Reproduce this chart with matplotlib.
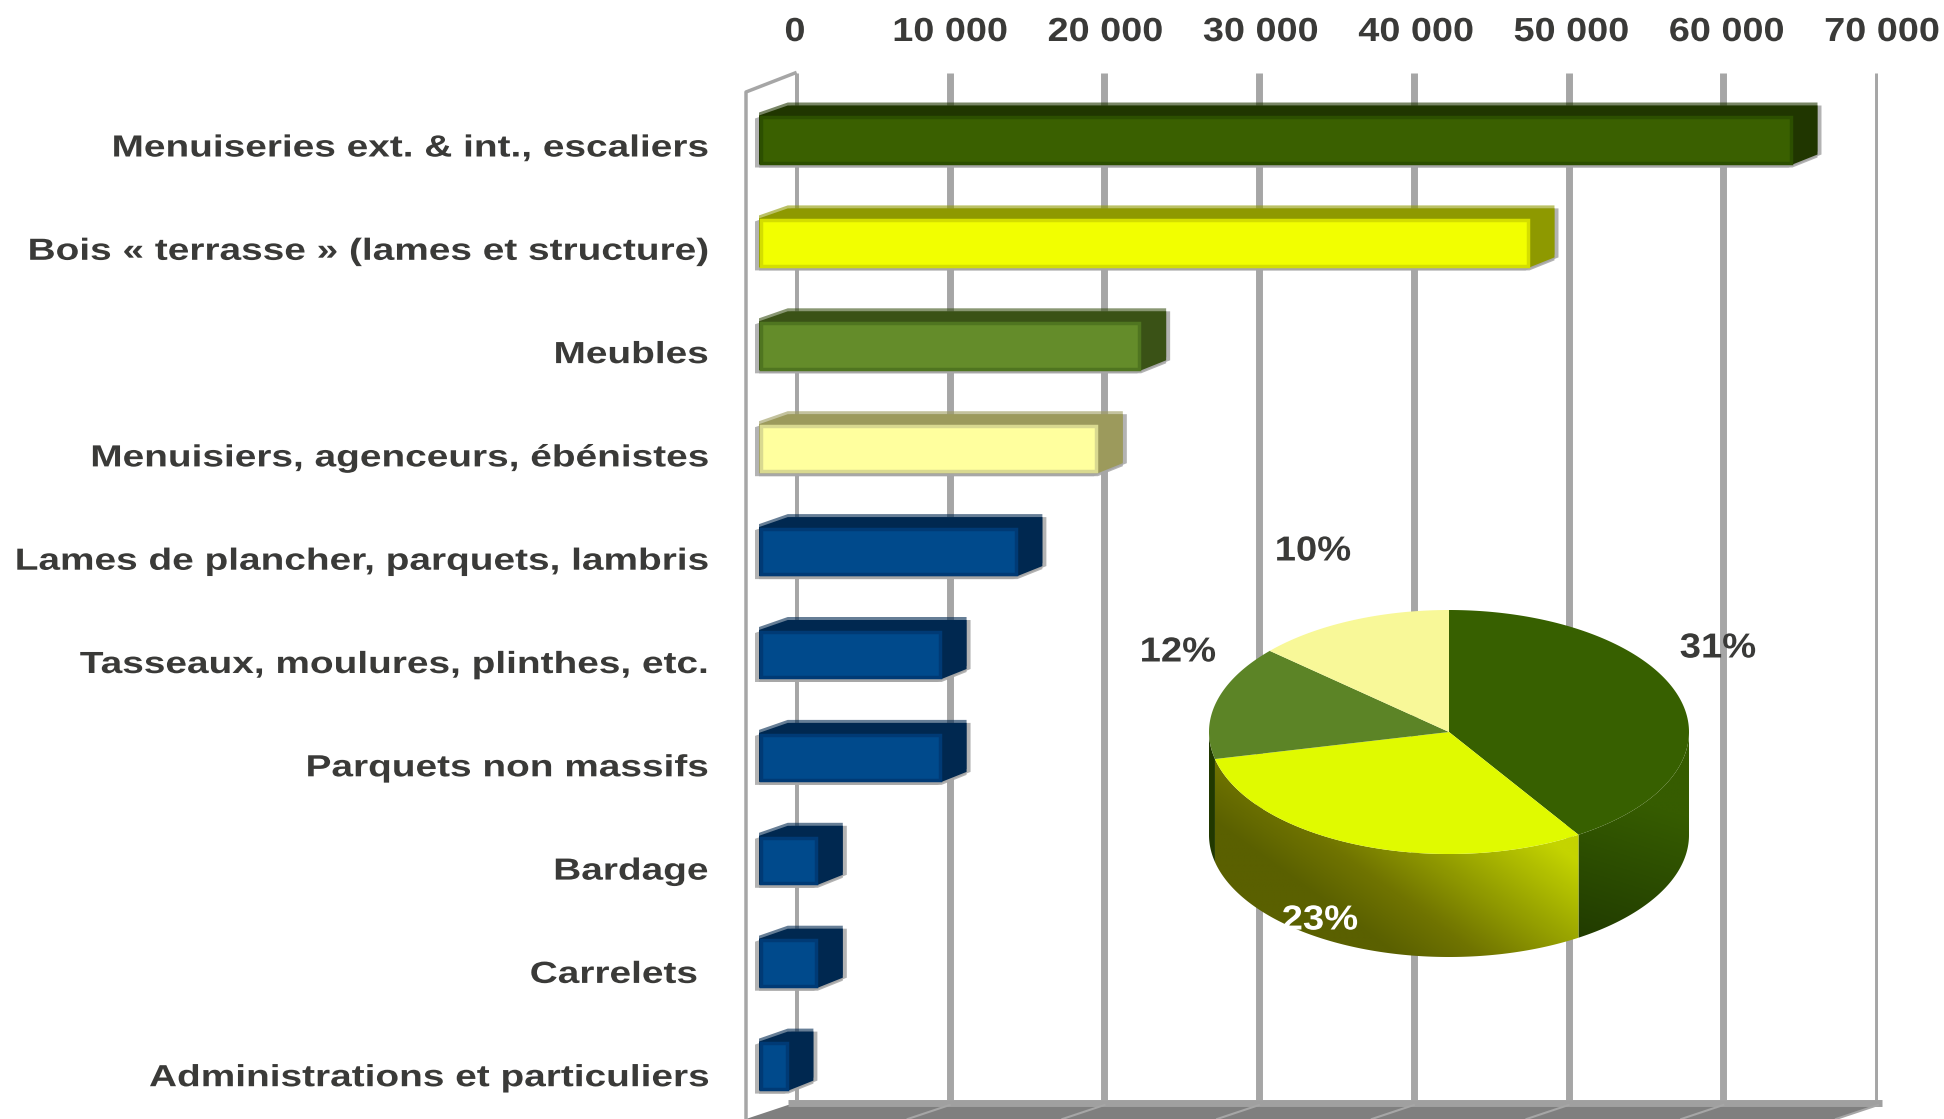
import numpy as np
import matplotlib
matplotlib.use('Agg')
import matplotlib.pyplot as plt
import matplotlib.patheffects as path_effects
from matplotlib.colors import LinearSegmentedColormap
from matplotlib.patches import Polygon
from matplotlib.transforms import Affine2D

plt.rcParams['font.family'] = ['Liberation Sans', 'DejaVu Sans']

categories = ['Menuiseries ext. & int., escaliers', 'Bois « terrasse » (lames et structure)', 'Meubles',
              'Menuisiers, agenceurs, ébénistes', 'Lames de plancher, parquets, lambris',
              'Tasseaux, moulures, plinthes, etc.', 'Parquets non massifs', 'Bardage', 'Carrelets ',
              'Administrations et particuliers']
values = [66800, 49800, 24700, 21900, 16700, 11800, 11800, 3800, 3800, 1900]
ticks = [0, 10000, 20000, 30000, 40000, 50000, 60000, 70000]
tick_labels = ['0', '10 000', '20 000', '30 000', '40 000', '50 000', '60 000', '70 000']
pie_values = [66800, 49800, 24700, 21900]
pie_labels = ['31%', '23%', '12%', '10%']

# front, edge, top/side
dark = ('#3a6000', '#2c4f00', '#203600')
yellow = ('#f2ff00', '#d4de00', '#8e9900')
green = ('#648c2a', '#4f7520', '#3a5216')
pale = ('#ffff9e', '#d9d990', '#9c9a5c')
blue = ('#004a8c', '#003a75', '#002850')
bar_colors = [dark, yellow, green, pale, blue, blue, blue, blue, blue, blue]
pie_colors = ['#376000', '#e0fa00', '#5c8426', '#f8f898']


class Stretch(path_effects.AbstractPathEffect):
    # the source picture has its text pulled wider, so do the same when drawing
    def __init__(self, sx, anchor=None, dx=0, dy=0):
        super().__init__()
        self.sx = sx
        self.anchor = anchor
        self.dx = dx
        self.dy = dy

    def draw_path(self, renderer, gc, tpath, affine, rgbFace=None):
        x0 = self.anchor
        if x0 is None:
            ext = tpath.get_extents(affine)
            x0 = (ext.x0 + ext.x1) / 2
        t = affine + Affine2D().translate(-x0, 0).scale(self.sx, 1).translate(x0 + self.dx, self.dy)
        renderer.draw_path(gc, tpath, t, rgbFace)


W, H = 1944, 1119
fig = plt.figure(figsize=(W / 100, H / 100), dpi=100)
ax = fig.add_axes([795 / W, 1 - 1100 / H, (1878 - 795) / W, (1100 - 73) / H])
y_top = -(140 - 73) / 102.9
y_bot = (1100 - 140) / 102.9
ax.set_xlim(0, 70000)
ax.set_ylim(y_bot, y_top)
for s in ax.spines.values():
    s.set_visible(False)

px_x = 70000 / (1878 - 795)
px_y = 1 / 102.9
grid_c = '#a6a6a6'

ax.xaxis.tick_top()
ax.set_xticks(ticks)
ax.set_xticklabels(tick_labels, fontsize=24, fontweight='bold', color='#3a3a38')
ax.set_yticks(range(len(categories)))
ax.set_yticklabels(categories, fontsize=22, fontweight='bold', color='#3a3a38')
ax.tick_params(axis='x', length=0, pad=18)
ax.tick_params(axis='y', length=0, pad=62)
for i, t in enumerate(ax.get_xticklabels()):
    t.set_path_effects([Stretch(1.135, dx=i * 0.6)])
for i, t in enumerate(ax.get_yticklabels()):
    t.set_path_effects([Stretch(1.27, anchor=710.5, dy=-5 - i * 0.4)])

# back wall lines
for t in ticks:
    ax.axvline(t, color=grid_c, lw=5, zorder=1, solid_capstyle='butt')

# floor and left wall
floor_y = y_bot + 5 * px_y
floor_dy = 14 * px_y
floor_dx = 42 * px_x
ax.add_patch(Polygon([(-7 * px_x, floor_y), (70000, floor_y), (70000 - floor_dx, floor_y + floor_dy),
                      (-7 * px_x - floor_dx, floor_y + floor_dy)],
                     closed=True, fc='#7f7f7f', ec='none', zorder=1, clip_on=False))
ax.plot([-7 * px_x, 4 * px_x + 70000], [y_bot + 2.5 * px_y] * 2, color='#a0a0a0', lw=5, zorder=1.5, clip_on=False,
        solid_capstyle='butt')
for t in ticks[1:]:
    ax.plot([t, t - floor_dx], [floor_y, floor_y + floor_dy], color=grid_c, lw=1.5, zorder=1.5, clip_on=False)
wall_x = 49 * px_x
ax.plot([0, -wall_x, -wall_x], [y_top, y_top + 19 * px_y, y_bot + 30 * px_y], color=grid_c, lw=2.5, zorder=1,
        clip_on=False)

# 3d bars
start = -36 * px_x
dx = 25 * px_x
dy = 10 * px_y
hb = 24.5 * px_y
edge_x = 1.75 * px_x
edge_y = 1.75 * px_y
for i, (v, c) in enumerate(zip(values, bar_colors)):
    end = start + v
    outline = np.array([(start, i - hb), (start + 1.15 * dx, i - hb - dy), (end + dx, i - hb - dy),
                        (end + dx, i + hb - dy), (end, i + hb), (start, i + hb)])
    # soft grey halo on the sides of each bar
    for sx, sy, col, al in [(-4, 3, grid_c, 0.85), (4, 0, grid_c, 0.85), (0, 3, grid_c, 0.85), (0, -3, c[2], 0.6)]:
        ax.add_patch(Polygon(outline + [sx * px_x, sy * px_y], closed=True, fc=col, ec='none', alpha=al, zorder=2,
                             clip_on=False))
    ax.add_patch(Polygon(outline, closed=True, fc=c[2], ec='none', zorder=3, clip_on=False))
    ax.barh(i, v - 2 * edge_x, left=start + edge_x, height=2 * hb - 2 * edge_y, color=c[0], edgecolor=c[1],
            linewidth=2.5, zorder=4, clip_on=False)

# pie drawn as ellipse in its own axes, one unit = radius
depth = 103 / 122
pax = fig.add_axes([1209 / W, 1 - 957 / H, (1689 - 1209) / W, (957 - 610) / H])
pax.set_xlim(-1, 1)
pax.set_ylim(-1 - depth, 1)
pax.axis('off')
pax.patch.set_alpha(0)

frac = np.cumsum([0] + pie_values) / sum(pie_values) * 2 * np.pi


def arc(a, b):
    t = np.linspace(a, b, 200)
    return np.sin(t), np.cos(t)


def side_poly(a, b):
    x, y = arc(a, b)
    return np.column_stack([np.r_[x, x[::-1]], np.r_[y, y[::-1] - depth]])


gx, gy = np.meshgrid(np.linspace(-1, 1, 400), np.linspace(1, -1 - depth, 400))

# green side
p = Polygon(side_poly(np.pi / 2, frac[1]), closed=True, fc='none', ec='none')
pax.add_patch(p)
cm = LinearSegmentedColormap.from_list('g', ['#1f3800', '#2a4a00', '#365c00'])
im = pax.imshow(gy + 1.0 + 0.6 * gx, extent=(-1, 1, -1 - depth, 1), cmap=cm, aspect='auto', vmin=-0.5, vmax=0.9,
                zorder=1)
im.set_clip_path(p)

# yellow side
p = Polygon(side_poly(frac[1], frac[2]), closed=True, fc='none', ec='none')
pax.add_patch(p)
cm = LinearSegmentedColormap.from_list('y', [(0, '#5a6000'), (0.27, '#707400'), (0.62, '#98a300'), (1, '#c4d400')])
im = pax.imshow(gx + 0.7 * (gy + 1), extent=(-1, 1, -1 - depth, 1), cmap=cm, aspect='auto', vmin=-0.8, vmax=0.5,
                zorder=1)
im.set_clip_path(p)

# sliver of light green slice on the left
pax.add_patch(Polygon(side_poly(frac[2], 1.5 * np.pi), closed=True, fc='#203800', ec='none', zorder=1))
pax.set_xlim(-1, 1)
pax.set_ylim(-1 - depth, 1)

for i, col in enumerate(pie_colors):
    x, y = arc(frac[i], frac[i + 1])
    pax.add_patch(Polygon(np.column_stack([np.r_[0, x], np.r_[0, y]]), closed=True, fc=col, ec='none', zorder=2))

label_pos = [(1718, 648, '#3a3a38'), (1320, 920, 'white'), (1178, 652, '#3a3a38'), (1313, 551, '#3a3a38')]
for lab, (x, y, col) in zip(pie_labels, label_pos):
    t = fig.text(x / W, 1 - y / H, lab, fontsize=25, fontweight='bold', color=col, ha='center', va='center', zorder=10)
    t.set_path_effects([Stretch(1.1)])

fig.savefig('out.png', dpi=100)
